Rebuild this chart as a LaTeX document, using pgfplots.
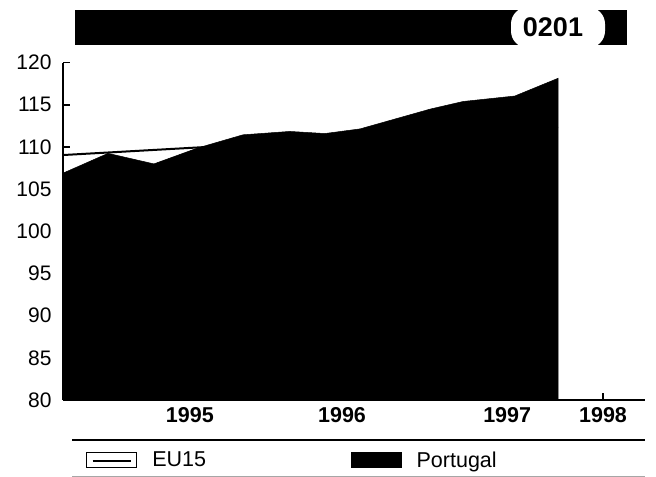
\documentclass[border=0pt]{standalone}
\usepackage{pgfplots}
\pgfplotsset{compat=1.18}
\usepackage{fontspec}
\setmainfont{Liberation Sans}
\begin{document}
\begin{tikzpicture}
\path[use as bounding box] (0bp,0bp) rectangle (656bp,-477bp);
% banner
\fill[black] (75bp,-10bp) rectangle (627bp,-45bp);
\fill[white, rounded corners=17bp] (511bp,-7bp) rectangle (605bp,-48bp);
\node[font=\fontsize{27bp}{30bp}\selectfont\bfseries, inner sep=0pt] at (553bp,-27.5bp) {0201};
\begin{axis}[
  at={(63bp,-400bp)}, anchor=south west, scale only axis,
  width=582bp, height=337.3bp,
  xmin=0, xmax=12.933, ymin=80, ymax=120,
  axis x line=bottom, axis y line=left,
  axis line style={-},
  x axis line style={line width=1.2bp},
  y axis line style={line width=1.8bp},
  tick align=inside,
  major tick length=7bp,
  tick style={black, line width=1.5bp},
  ytick={80,85,90,95,100,105,110,115,120},
  yticklabels={80,85,90,95,100,105,110,115,120},
  xtick={2.82,6.2,9.87,12},
  xticklabels={1995,1996,1997,1998},
  yticklabel style={font=\fontsize{21bp}{25bp}\selectfont, xshift=-8bp},
  xticklabel style={font=\fontsize{21.5bp}{24bp}\selectfont\bfseries, yshift=-4bp},
  legend columns=2,
  reverse legend,
  legend style={draw=none, fill=none, at={(0.034,-0.178)}, anchor=west,
    font=\fontsize{21.5bp}{25bp}\selectfont,
    nodes={inner sep=0pt, anchor=west},
    /tikz/every odd column/.append style={column sep=15bp},
    /tikz/every even column/.append style={column sep=145bp}},
]
\addplot[fill=black, draw=black, line width=0.5bp,
  legend image code/.code={\fill[black] (0bp,-7.5bp) rectangle (50bp,7.5bp);}]
  coordinates {
  (0,106.9) (1.0,109.25) (2.02,108.0) (3.0,109.9) (4.0,111.45) (5.04,111.85)
  (5.82,111.6) (6.6,112.15) (8.16,114.5) (8.89,115.4) (10.04,116.05) (11.0,118.15)
  } \closedcycle;
\addplot[black, line width=2bp,
  legend image code/.code={\draw[black,line width=1.4bp,fill=white] (0bp,-7.5bp) rectangle (50bp,7.5bp);
    \draw[black,line width=1.6bp] (6bp,-1bp) -- (44bp,-1bp);}]
  coordinates {
  (0,109.05) (1,109.35) (2,109.65) (3,109.95) (4,110.25) (5,110.55)
  (6,110.85) (7,111.15) (8,111.45) (9,111.75) (10,112.05) (11,112.35)
  };
\legend{Portugal,EU15}
\end{axis}
\draw[black, line width=1.3bp] (72bp,-440bp) -- (645bp,-440bp);
\draw[gray!70, line width=0.8bp] (72bp,-476bp) -- (645bp,-476bp);
\end{tikzpicture}
\end{document}
